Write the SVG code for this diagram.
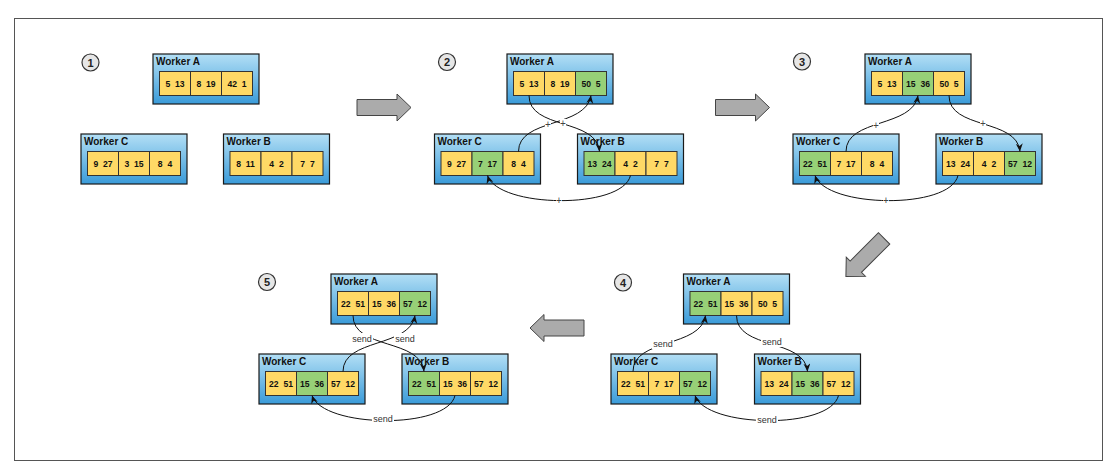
<svg xmlns="http://www.w3.org/2000/svg" width="1117" height="467" viewBox="0 0 1117 467">
<style>
.frame{fill:#fff;stroke:#555;stroke-width:1}
.box{fill:url(#bg);stroke:#1a1a1a;stroke-width:1.2}
.y{fill:#ffd966;stroke:#333;stroke-width:1}
.g{fill:#97d077;stroke:#333;stroke-width:1}
.t{font-family:"Liberation Sans",Arial,sans-serif;font-weight:bold;font-size:10px;fill:#111}
.v{font-family:"Liberation Sans",Arial,sans-serif;font-weight:bold;font-size:8.6px;fill:#111;text-anchor:middle;white-space:pre}
.num{fill:#e6e6e6;stroke:#333;stroke-width:1.2}
.nt{font-family:"Liberation Sans",Arial,sans-serif;font-weight:bold;font-size:11px;fill:#222;text-anchor:middle}
.big{fill:#ababab;stroke:#444;stroke-width:1}
.c{fill:none;stroke:#111;stroke-width:1;marker-end:url(#ah)}
.lb{fill:#fff}
.lt{font-family:"Liberation Sans",Arial,sans-serif;font-size:9px;fill:#333;text-anchor:middle}
.pl{font-family:"Liberation Sans",Arial,sans-serif;font-size:10px;fill:#444;text-anchor:middle}
</style>
<defs>
<linearGradient id="bg" x1="0" y1="0" x2="0" y2="1">
<stop offset="0" stop-color="#b3dff5"/>
<stop offset="1" stop-color="#3a9bd9"/>
</linearGradient>
<marker id="ah" markerUnits="userSpaceOnUse" markerWidth="9" markerHeight="8" refX="8" refY="3.5" orient="auto">
<path d="M0,0 L8,3.5 L0,7 L2.5,3.5 Z" fill="#111"/>
</marker>
<path id="barrow" d="M-27,-8 L13,-8 L13,-13.5 L27,0 L13,13.5 L13,8 L-27,8 Z"/>
</defs>
<rect class="frame" x="14.5" y="18.5" width="1088" height="442"/>

<!-- step numbers -->
<g id="step1"><circle class="num" cx="90.5" cy="62.5" r="8.5"/><text class="nt" x="90.5" y="66.5">1</text></g>
<g id="step2"><circle class="num" cx="447" cy="62" r="8.5"/><text class="nt" x="447" y="66">2</text></g>
<g id="step3"><circle class="num" cx="802" cy="61.5" r="8.5"/><text class="nt" x="802" y="65.5">3</text></g>
<g id="step4"><circle class="num" cx="623" cy="282.5" r="8.5"/><text class="nt" x="623" y="286.5">4</text></g>
<g id="step5"><circle class="num" cx="267" cy="282" r="8.5"/><text class="nt" x="267" y="286">5</text></g>

<!-- big arrows -->
<g id="bigarrows">
<use href="#barrow" class="big" transform="translate(384,107.5)"/>
<use href="#barrow" class="big" transform="translate(742.5,107.5)"/>
<use href="#barrow" class="big" transform="translate(865,257.5) rotate(135)"/>
<use href="#barrow" class="big" transform="translate(557,328) rotate(180)"/>
</g>

<!-- Stage 1 -->
<g id="s1-workerA" transform="translate(153,54)">
<rect class="box" x="0" y="0" width="106" height="50"/><text class="t" x="3" y="10.5">Worker A</text>
<rect class="y" x="6.5" y="17.5" width="31" height="24"/><rect class="y" x="37.5" y="17.5" width="31" height="24"/><rect class="y" x="68.5" y="17.5" width="31" height="24"/>
<text class="v" x="22" y="32.5">5  13</text><text class="v" x="53" y="32.5">8  19</text><text class="v" x="84" y="32.5">42  1</text>
</g>
<g id="s1-workerC" transform="translate(81,134)">
<rect class="box" x="0" y="0" width="106" height="50"/><text class="t" x="3" y="10.5">Worker C</text>
<rect class="y" x="6.5" y="17.5" width="31" height="24"/><rect class="y" x="37.5" y="17.5" width="31" height="24"/><rect class="y" x="68.5" y="17.5" width="31" height="24"/>
<text class="v" x="22" y="32.5">9  27</text><text class="v" x="53" y="32.5">3  15</text><text class="v" x="84" y="32.5">8  4</text>
</g>
<g id="s1-workerB" transform="translate(223.5,134)">
<rect class="box" x="0" y="0" width="106" height="50"/><text class="t" x="3" y="10.5">Worker B</text>
<rect class="y" x="6.5" y="17.5" width="31" height="24"/><rect class="y" x="37.5" y="17.5" width="31" height="24"/><rect class="y" x="68.5" y="17.5" width="31" height="24"/>
<text class="v" x="22" y="32.5">8  11</text><text class="v" x="53" y="32.5">4  2</text><text class="v" x="84" y="32.5">7  7</text>
</g>

<!-- Stage 2 -->
<g id="s2-workerA" transform="translate(507,54)">
<rect class="box" x="0" y="0" width="106" height="50"/><text class="t" x="3" y="10.5">Worker A</text>
<rect class="y" x="6.5" y="17.5" width="31" height="24"/><rect class="y" x="37.5" y="17.5" width="31" height="24"/><rect class="g" x="68.5" y="17.5" width="31" height="24"/>
<text class="v" x="22" y="32.5">5  13</text><text class="v" x="53" y="32.5">8  19</text><text class="v" x="84" y="32.5">50  5</text>
</g>
<g id="s2-workerC" transform="translate(434.5,134)">
<rect class="box" x="0" y="0" width="106" height="50"/><text class="t" x="3" y="10.5">Worker C</text>
<rect class="y" x="6.5" y="17.5" width="31" height="24"/><rect class="g" x="37.5" y="17.5" width="31" height="24"/><rect class="y" x="68.5" y="17.5" width="31" height="24"/>
<text class="v" x="22" y="32.5">9  27</text><text class="v" x="53" y="32.5">7  17</text><text class="v" x="84" y="32.5">8  4</text>
</g>
<g id="s2-workerB" transform="translate(577.5,134)">
<rect class="box" x="0" y="0" width="106" height="50"/><text class="t" x="3" y="10.5">Worker B</text>
<rect class="g" x="6.5" y="17.5" width="31" height="24"/><rect class="y" x="37.5" y="17.5" width="31" height="24"/><rect class="y" x="68.5" y="17.5" width="31" height="24"/>
<text class="v" x="22" y="32.5">13  24</text><text class="v" x="53" y="32.5">4  2</text><text class="v" x="84" y="32.5">7  7</text>
</g>

<!-- Stage 3 -->
<g id="s3-workerA" transform="translate(865,54)">
<rect class="box" x="0" y="0" width="106" height="50"/><text class="t" x="3" y="10.5">Worker A</text>
<rect class="y" x="6.5" y="17.5" width="31" height="24"/><rect class="g" x="37.5" y="17.5" width="31" height="24"/><rect class="y" x="68.5" y="17.5" width="31" height="24"/>
<text class="v" x="22" y="32.5">5  13</text><text class="v" x="53" y="32.5">15  36</text><text class="v" x="84" y="32.5">50  5</text>
</g>
<g id="s3-workerC" transform="translate(793,134)">
<rect class="box" x="0" y="0" width="106" height="50"/><text class="t" x="3" y="10.5">Worker C</text>
<rect class="g" x="6.5" y="17.5" width="31" height="24"/><rect class="y" x="37.5" y="17.5" width="31" height="24"/><rect class="y" x="68.5" y="17.5" width="31" height="24"/>
<text class="v" x="22" y="32.5">22  51</text><text class="v" x="53" y="32.5">7  17</text><text class="v" x="84" y="32.5">8  4</text>
</g>
<g id="s3-workerB" transform="translate(936,134)">
<rect class="box" x="0" y="0" width="106" height="50"/><text class="t" x="3" y="10.5">Worker B</text>
<rect class="y" x="6.5" y="17.5" width="31" height="24"/><rect class="y" x="37.5" y="17.5" width="31" height="24"/><rect class="g" x="68.5" y="17.5" width="31" height="24"/>
<text class="v" x="22" y="32.5">13  24</text><text class="v" x="53" y="32.5">4  2</text><text class="v" x="84" y="32.5">57  12</text>
</g>

<!-- Stage 4 -->
<g id="s4-workerA" transform="translate(683.5,274)">
<rect class="box" x="0" y="0" width="106" height="50"/><text class="t" x="3" y="10.5">Worker A</text>
<rect class="g" x="6.5" y="17.5" width="31" height="24"/><rect class="y" x="37.5" y="17.5" width="31" height="24"/><rect class="y" x="68.5" y="17.5" width="31" height="24"/>
<text class="v" x="22" y="32.5">22  51</text><text class="v" x="53" y="32.5">15  36</text><text class="v" x="84" y="32.5">50  5</text>
</g>
<g id="s4-workerC" transform="translate(611,354)">
<rect class="box" x="0" y="0" width="106" height="50"/><text class="t" x="3" y="10.5">Worker C</text>
<rect class="y" x="6.5" y="17.5" width="31" height="24"/><rect class="y" x="37.5" y="17.5" width="31" height="24"/><rect class="g" x="68.5" y="17.5" width="31" height="24"/>
<text class="v" x="22" y="32.5">22  51</text><text class="v" x="53" y="32.5">7  17</text><text class="v" x="84" y="32.5">57  12</text>
</g>
<g id="s4-workerB" transform="translate(754.5,354)">
<rect class="box" x="0" y="0" width="106" height="50"/><text class="t" x="3" y="10.5">Worker B</text>
<rect class="y" x="6.5" y="17.5" width="31" height="24"/><rect class="g" x="37.5" y="17.5" width="31" height="24"/><rect class="y" x="68.5" y="17.5" width="31" height="24"/>
<text class="v" x="22" y="32.5">13  24</text><text class="v" x="53" y="32.5">15  36</text><text class="v" x="84" y="32.5">57  12</text>
</g>

<!-- Stage 5 -->
<g id="s5-workerA" transform="translate(331,274)">
<rect class="box" x="0" y="0" width="106" height="50"/><text class="t" x="3" y="10.5">Worker A</text>
<rect class="y" x="6.5" y="17.5" width="31" height="24"/><rect class="y" x="37.5" y="17.5" width="31" height="24"/><rect class="g" x="68.5" y="17.5" width="31" height="24"/>
<text class="v" x="22" y="32.5">22  51</text><text class="v" x="53" y="32.5">15  36</text><text class="v" x="84" y="32.5">57  12</text>
</g>
<g id="s5-workerC" transform="translate(259,354)">
<rect class="box" x="0" y="0" width="106" height="50"/><text class="t" x="3" y="10.5">Worker C</text>
<rect class="y" x="6.5" y="17.5" width="31" height="24"/><rect class="g" x="37.5" y="17.5" width="31" height="24"/><rect class="y" x="68.5" y="17.5" width="31" height="24"/>
<text class="v" x="22" y="32.5">22  51</text><text class="v" x="53" y="32.5">15  36</text><text class="v" x="84" y="32.5">57  12</text>
</g>
<g id="s5-workerB" transform="translate(402,354)">
<rect class="box" x="0" y="0" width="106" height="50"/><text class="t" x="3" y="10.5">Worker B</text>
<rect class="g" x="6.5" y="17.5" width="31" height="24"/><rect class="y" x="37.5" y="17.5" width="31" height="24"/><rect class="y" x="68.5" y="17.5" width="31" height="24"/>
<text class="v" x="22" y="32.5">22  51</text><text class="v" x="53" y="32.5">15  36</text><text class="v" x="84" y="32.5">57  12</text>
</g>

<!-- connectors -->
<g id="connectors">
<!-- stage 2 -->
<path class="c" d="M529,95.5 C529,130 597,118 599.5,151.5"/>
<path class="c" d="M518.5,151.5 C518.5,118 586,128 591,95.5"/>
<path class="c" d="M630.5,175.5 C622,210 498,208 487.5,175.5"/>
<rect class="lb" x="545" y="120" width="6" height="7"/><text class="pl" x="548" y="127.5">+</text>
<rect class="lb" x="560" y="119" width="6" height="7"/><text class="pl" x="563" y="126.5">+</text>
<rect class="lb" x="556" y="197" width="6" height="7"/><text class="pl" x="559" y="204">+</text>
<!-- stage 3 -->
<path class="c" d="M846,151.5 C846,118 913,128 918,95.5"/>
<path class="c" d="M949,95.5 C949,130 1017,118 1020,151.5"/>
<path class="c" d="M958,175.5 C950,210 826,208 815,175.5"/>
<rect class="lb" x="873" y="121" width="6" height="7"/><text class="pl" x="876" y="128.5">+</text>
<rect class="lb" x="980" y="119" width="6" height="7"/><text class="pl" x="983" y="126.5">+</text>
<rect class="lb" x="883" y="197" width="6" height="7"/><text class="pl" x="886" y="204">+</text>
<!-- stage 4 -->
<path class="c" d="M633,371.5 C633,338 701,348 705.5,315.5"/>
<path class="c" d="M736.5,315.5 C736.5,350 805,338 807.5,371.5"/>
<path class="c" d="M838.5,395.5 C830,430 706,428 695,395.5"/>
<rect class="lb" x="652" y="338" width="22" height="11"/><text class="lt" x="663" y="347">send</text>
<rect class="lb" x="761" y="336" width="22" height="11"/><text class="lt" x="772" y="345">send</text>
<rect class="lb" x="756" y="414" width="22" height="11"/><text class="lt" x="767" y="423">send</text>
<!-- stage 5 -->
<path class="c" d="M353,315.5 C353,350 421,338 424,371.5"/>
<path class="c" d="M343,371.5 C343,338 410,348 415,315.5"/>
<path class="c" d="M455,395.5 C447,430 323,428 312,395.5"/>
<rect class="lb" x="351" y="333" width="22" height="11"/><text class="lt" x="362" y="342">send</text>
<rect class="lb" x="394" y="333" width="22" height="11"/><text class="lt" x="405" y="342">send</text>
<rect class="lb" x="372" y="413" width="22" height="11"/><text class="lt" x="383" y="422">send</text>
</g>
</svg>
